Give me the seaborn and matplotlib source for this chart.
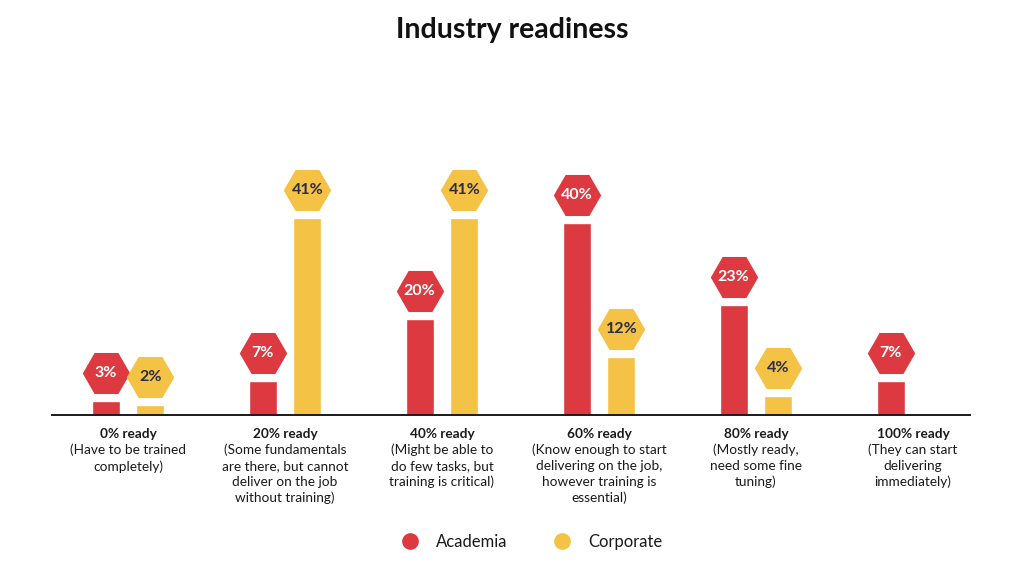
import pandas as pd
import matplotlib.pyplot as plt
import seaborn as sns
from matplotlib.lines import Line2D
from matplotlib.transforms import ScaledTranslation

# -----------------------------
# Data
# -----------------------------
levels = ["0% ready", "20% ready", "40% ready", "60% ready", "80% ready", "100% ready"]
descriptions = [
    "(Have to be trained\ncompletely)",
    "(Some fundamentals\nare there, but cannot\ndeliver on the job\nwithout training)",
    "(Might be able to\ndo few tasks, but\ntraining is critical)",
    "(Know enough to start\ndelivering on the job,\nhowever training is\nessential)",
    "(Mostly ready,\nneed some fine\ntuning)",
    "(They can start\ndelivering\nimmediately)",
]
academia = [3, 7, 20, 40, 23, 7]
corporate = [2, 41, 41, 12, 4, 0]
groups = ["Academia", "Corporate"]

red = "#DC3A40"
yellow = "#F4C245"
navy = "#2B2D42"

df = pd.DataFrame({
    "level": levels * 2,
    "group": [groups[0]] * len(levels) + [groups[1]] * len(levels),
    "value": academia + corporate,
})

sns.set_style("white")
plt.rcParams["font.family"] = ["Lato", "DejaVu Sans"]

fig = plt.figure(figsize=(10.25, 5.65), dpi=100)
ax = fig.add_axes([52 / 1025, (565 - 415) / 565, 918 / 1025, 240 / 565])

sns.barplot(data=df, x="level", y="value", hue="group", order=levels,
            hue_order=groups, palette=[red, yellow], width=0.57, gap=0.375,
            legend=False, ax=ax, saturation=1)

ax.set_xlim(-0.484, 5.363)
ax.set_ylim(0, 50)

for s in ["top", "left", "right"]:
    ax.spines[s].set_visible(False)
ax.spines["bottom"].set_color("#1a1a1a")
ax.spines["bottom"].set_linewidth(1.4)
ax.set_yticks([])
ax.set_xlabel("")
ax.set_ylabel("")
ax.tick_params(axis="x", length=0, pad=9)
ax.set_xticks(range(len(levels)))
ax.set_xticklabels(levels, fontsize=9.8, fontweight="bold", color="#1a1a1a")

for i, desc in enumerate(descriptions):
    ax.annotate(desc, xy=(i, 0), xycoords=("data", "axes fraction"),
                xytext=(0, -20.5), textcoords="offset points", ha="center",
                va="top", fontsize=9.8, color="#1a1a1a", linespacing=1.38)

# hexagon value badges above bars
badge = ax.transData + ScaledTranslation(0, 28 / 100, fig.dpi_scale_trans)
for k, bar in enumerate(ax.patches):
    h = bar.get_height()
    if h <= 0:
        continue
    x = bar.get_x() + bar.get_width() / 2
    is_acad = k < len(levels)
    face = red if is_acad else yellow
    ax.plot([x], [h], marker="H", markersize=33, color=face,
            linestyle="none", transform=badge, clip_on=False)
    ax.text(x, h, f"{h:.0f}%", transform=badge, ha="center", va="center",
            fontsize=11.5, fontweight="bold",
            color="white" if is_acad else navy, clip_on=False)

fig.text(0.5, 1 - 30 / 565, "Industry readiness", ha="center", va="center",
         fontsize=20.5, fontweight="bold", color="#111111")

handles = [Line2D([], [], marker="o", linestyle="none", markersize=11,
                  color=c) for c in [red, yellow]]
fig.legend(handles, groups, loc="center", bbox_to_anchor=(0.515, 1 - 542 / 565),
           ncol=2, frameon=False, fontsize=12, handletextpad=0.55,
           columnspacing=2.3, labelcolor="#1a1a1a")

fig.savefig("out.png", dpi=100)
plt.close()
